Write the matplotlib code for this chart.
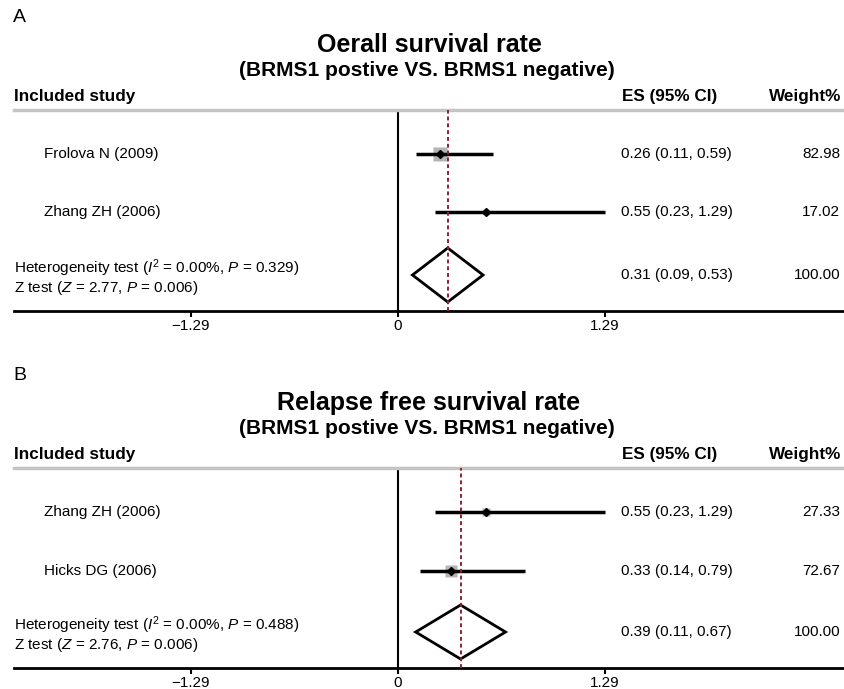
import numpy as np
import matplotlib
matplotlib.use("Agg")
import matplotlib.pyplot as plt
from matplotlib.patches import Polygon
import matplotlib.transforms as mtransforms

plt.rcParams["font.family"] = ["Liberation Sans", "DejaVu Sans"]
plt.rcParams["mathtext.fontset"] = "custom"
plt.rcParams["mathtext.rm"] = "Liberation Sans"
plt.rcParams["mathtext.it"] = "Liberation Sans:italic"

# ── Data ─────────────────────────────────────────────────────────────────────
studies_a = ["Frolova N (2009)", "Zhang ZH (2006)"]
es_a      = [0.26, 0.55]
lo_a      = [0.11, 0.23]
hi_a      = [0.59, 1.29]
weight_a  = [82.98, 17.02]
pooled_a  = [0.31, 0.09, 0.53]
het_a     = ["0.00%", "0.329"]
ztest_a   = ["2.77", "0.006"]

studies_b = ["Zhang ZH (2006)", "Hicks DG (2006)"]
es_b      = [0.55, 0.33]
lo_b      = [0.23, 0.14]
hi_b      = [1.29, 0.79]
weight_b  = [27.33, 72.67]
pooled_b  = [0.39, 0.11, 0.67]
het_b     = ["0.00%", "0.488"]
ztest_b   = ["2.76", "0.006"]

xticks      = [-1.29, 0, 1.29]
xticklabels = ["\u22121.29", "0", "1.29"]

W, H = 844, 689
fig = plt.figure(figsize=(W / 100, H / 100), dpi=100)


def fx(px):
    return px / W


def fy(py):
    return 1 - py / H


def panel(letter, title, top_px, bot_px, row_px, studies, es, lo, hi, wts,
          pooled, het, zt):
    # header / titles placed relative to the gray header rule
    fig.text(fx(13), fy(top_px - 92), letter, fontsize=14, va="center", ha="left")
    fig.text(fx(429), fy(top_px - 65), title, fontsize=18, fontweight="bold",
             va="center", ha="center")
    fig.text(fx(427), fy(top_px - 39), "(BRMS1 postive VS. BRMS1 negative)",
             fontsize=15, fontweight="bold", va="center", ha="center")
    fig.text(fx(14), fy(top_px - 14), "Included study", fontsize=12.3,
             fontweight="bold", va="center", ha="left")
    fig.text(fx(622), fy(top_px - 14), "ES (95% CI)", fontsize=12.3,
             fontweight="bold", va="center", ha="left")
    fig.text(fx(841), fy(top_px - 14), "Weight%", fontsize=12.3,
             fontweight="bold", va="center", ha="right")

    ax = fig.add_axes([fx(14), fy(bot_px), fx(843) - fx(14),
                       (bot_px - top_px) / H])
    scale = 160.5  # pixels per unit
    ax.set_xlim((14 - 398) / scale, (843 - 398) / scale)
    ax.set_ylim(bot_px, top_px)   # y in pixel rows, inverted

    ax.spines["left"].set_visible(False)
    ax.spines["right"].set_visible(False)
    ax.spines["top"].set_color("#c4c4c4")
    ax.spines["top"].set_linewidth(2.5)
    ax.spines["bottom"].set_linewidth(2)
    ax.set_yticks([])
    ax.set_xticks(xticks)
    ax.set_xticklabels(xticklabels)
    ax.tick_params(axis="x", length=4, width=1.5, labelsize=11, pad=2)

    ax.axvline(0, color="black", lw=1.5)
    ax.axvline(pooled[0], color="#8b2332", lw=1.4, ls=(0, (2, 1.5)), zorder=5)

    trans = mtransforms.blended_transform_factory(ax.transAxes, ax.transData)
    for i, name in enumerate(studies):
        y = row_px[i]
        ax.plot([lo[i], hi[i]], [y, y], color="black", lw=2.5, zorder=3,
                solid_capstyle="butt")
        ax.plot(es[i], y, marker="s", ms=1.45 * np.sqrt(wts[i]) / 1.389,
                color="#b4b4b4", mec="none", zorder=2)
        ax.plot(es[i], y, marker="D", ms=4, color="black", zorder=4)
        ax.text(0.036, y, name, transform=trans, fontsize=11, va="center")
        ax.text(0.7325, y, f"{es[i]:.2f} ({lo[i]:.2f}, {hi[i]:.2f})",
                transform=trans, fontsize=11, va="center")
        ax.text(0.9965, y, f"{wts[i]:.2f}", transform=trans, fontsize=11,
                va="center", ha="right")

    ys = row_px[2]
    diamond = Polygon([[pooled[1], ys], [pooled[0], ys - 27],
                       [pooled[2], ys], [pooled[0], ys + 27]],
                      closed=True, facecolor="white", edgecolor="black",
                      lw=2, zorder=3)
    ax.add_patch(diamond)
    ax.text(0.0, ys - 7,
            f"Heterogeneity test ($I^2$ = {het[0]}, $P$ = {het[1]})",
            transform=trans, fontsize=11, va="center")
    ax.text(0.0, ys + 13, f"Z test ($Z$ = {zt[0]}, $P$ = {zt[1]})",
            transform=trans, fontsize=11, va="center")
    ax.text(0.7325, ys, f"{pooled[0]:.2f} ({pooled[1]:.2f}, {pooled[2]:.2f})",
            transform=trans, fontsize=11, va="center")
    ax.text(0.9965, ys, f"{sum(wts):.2f}", transform=trans, fontsize=11,
            va="center", ha="right")
    return ax


panel("A", "Oerall survival rate", 110, 311, [154, 212, 275],
      studies_a, es_a, lo_a, hi_a, weight_a, pooled_a, het_a, ztest_a)
panel("B", "Relapse free survival rate", 468, 668, [512, 571, 632],
      studies_b, es_b, lo_b, hi_b, weight_b, pooled_b, het_b, ztest_b)

fig.savefig("out.png", dpi=100)
